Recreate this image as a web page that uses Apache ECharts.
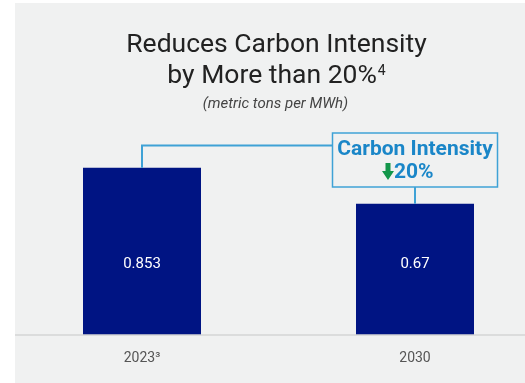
<!DOCTYPE html>
<html>
<head>
<meta charset="utf-8">
<script src="https://cdn.jsdelivr.net/npm/echarts@6/dist/echarts.min.js"></script>
<style>
html,body{margin:0;padding:0;background:#ffffff;}
#chart{width:525px;height:383px;}
</style>
</head>
<body>
<div id="chart"></div>
<script>
var categories = ['2023³', '2030'];
var values = [0.853, 0.67];
var titleLine1 = 'Reduces Carbon Intensity';
var titleLine2 = 'by More than 20%';
var titleNote = '4';
var unitText = '(metric tons per MWh)';
var calloutTitle = 'Carbon Intensity';
var calloutChange = '20%';

var chart = echarts.init(document.getElementById('chart'), null, {renderer: 'canvas'});
var FONT = 'Roboto, "Noto Sans", sans-serif';

var option = {
  backgroundColor: '#ffffff',
  animation: false,
  title: [
    {
      text: '{t|' + titleLine1 + '}\n{t|' + titleLine2 + '}{s|' + titleNote + '}',
      left: 276.5,
      textAlign: 'center',
      top: 30,
      padding: 0,
      textStyle: {
        fontFamily: FONT, fontSize: 26.5, fontWeight: 'normal', color: '#222222', lineHeight: 31,
        rich: {
          t: {fontFamily: FONT, fontSize: 26.5, color: '#222222', lineHeight: 31},
          s: {fontFamily: FONT, fontSize: 14, color: '#222222', lineHeight: 14, verticalAlign: 'top', padding: [3, 0, 0, 1]}
        }
      }
    },
    {
      text: unitText,
      left: 275.5,
      textAlign: 'center',
      top: 97,
      padding: 0,
      textStyle: {fontFamily: FONT, fontSize: 15, fontStyle: 'italic', fontWeight: 'normal', color: '#444444'}
    }
  ],
  grid: {left: 142, right: 110, top: 139, bottom: 48, containLabel: false},
  xAxis: {
    type: 'category',
    data: categories,
    boundaryGap: false,
    axisLine: {show: false},
    axisTick: {show: false},
    axisLabel: {fontFamily: FONT, fontSize: 14, color: '#555555', margin: 16}
  },
  yAxis: {
    type: 'value',
    min: 0,
    max: 1,
    show: false,
    splitLine: {show: false}
  },
  series: [{
    type: 'bar',
    data: values,
    barWidth: 118,
    clip: false,
    itemStyle: {color: '#001483'},
    label: {
      show: true,
      position: 'insideBottom',
      distance: 63,
      fontFamily: FONT,
      fontSize: 15,
      color: '#ffffff',
      formatter: function (p) { return String(p.value); }
    }
  }]
};
chart.setOption(option);

function addGraphics() {
  var p1 = chart.convertToPixel({seriesIndex: 0}, [0, values[0]]);
  var p2 = chart.convertToPixel({seriesIndex: 0}, [1, values[1]]);
  var base = chart.convertToPixel({seriesIndex: 0}, [0, 0]);
  var boxW = 165, boxTop = 133, boxH = 54;
  var boxL = p2[0] - boxW / 2;
  var lineY = 145.5;
  var lineColor = '#3fa2d6';
  var ax = p2[0] - 27, ay = 163;
  chart.setOption({
    graphic: [
      {type: 'rect', z: -10, silent: true, shape: {x: 15, y: 3, width: 510, height: 380}, style: {fill: '#f0f1f1'}},
      {type: 'line', z: 5, silent: true, shape: {x1: 15, y1: base[1], x2: 525, y2: base[1]}, style: {stroke: '#d4d4d4', lineWidth: 1.5}},
      {type: 'polyline', z: 5, silent: true, shape: {points: [[p1[0], p1[1]], [p1[0], lineY], [boxL, lineY]]}, style: {stroke: lineColor, lineWidth: 2, fill: null}},
      {type: 'line', z: 5, silent: true, shape: {x1: p2[0], y1: boxTop + boxH, x2: p2[0], y2: p2[1]}, style: {stroke: lineColor, lineWidth: 2}},
      {type: 'rect', z: 5, silent: true, shape: {x: boxL, y: boxTop, width: boxW, height: boxH}, style: {fill: '#f0f1f1', stroke: lineColor, lineWidth: 1.5}},
      {type: 'text', z: 6, silent: true, x: p2[0], y: 150, style: {
        text: calloutTitle, fontFamily: FONT, fontSize: 21, fontWeight: 'bold', fill: '#1a86c8', align: 'center', verticalAlign: 'middle'}},
      {type: 'polygon', z: 6, silent: true, shape: {points: [
        [ax - 2.5, ay], [ax + 2.5, ay], [ax + 2.5, ay + 8], [ax + 6, ay + 8],
        [ax, ay + 17], [ax - 6, ay + 8], [ax - 2.5, ay + 8]]}, style: {fill: '#13964a'}},
      {type: 'text', z: 6, silent: true, x: p2[0] - 21, y: 172.5, style: {
        text: calloutChange, fontFamily: FONT, fontSize: 21, fontWeight: 'bold', fill: '#1a86c8', align: 'left', verticalAlign: 'middle'}}
    ]
  });
}
addGraphics();
</script>
</body>
</html>
